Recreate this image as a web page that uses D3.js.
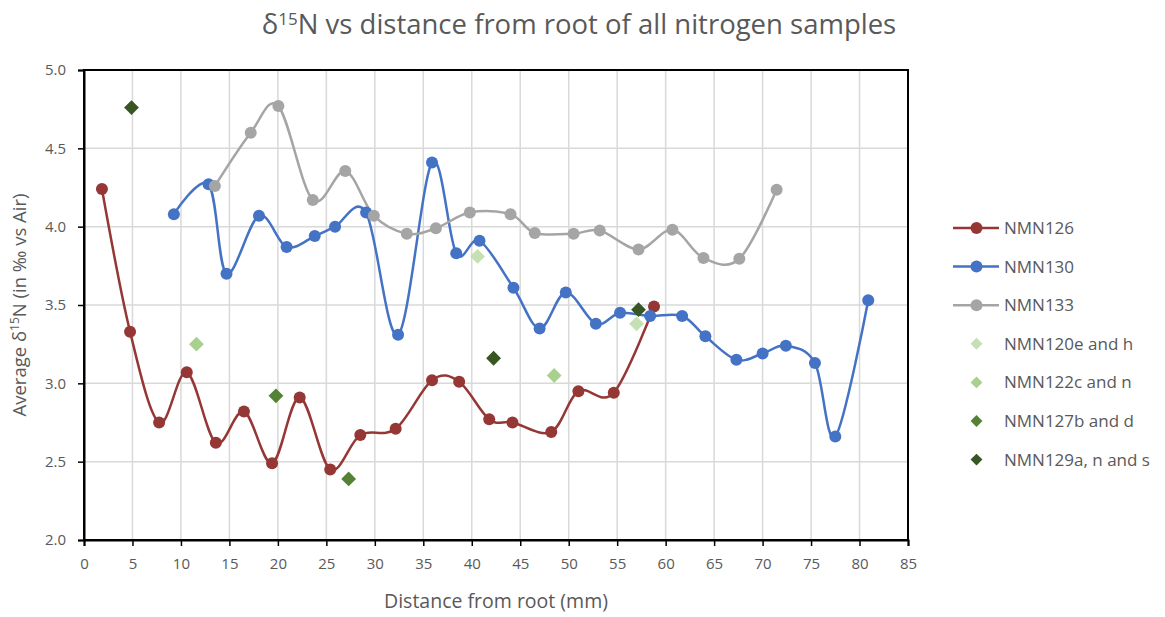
<!DOCTYPE html>
<html>
<head>
<meta charset="utf-8">
<script src="https://cdn.jsdelivr.net/npm/d3@7"></script>
<style>
  body { margin: 0; background: #fff; }
  text { font-family: "Open Sans", "Noto Sans", sans-serif; fill: #595959; }
</style>
</head>
<body>
<div id="chart"></div>
<script>
// Series data (distance mm, d15N)
const nmn126 = [
  [1.85, 4.24], [4.75, 3.33], [7.75, 2.75], [10.6, 3.07], [13.6, 2.62], [16.5, 2.82],
  [19.4, 2.49], [22.25, 2.91], [25.4, 2.45], [28.5, 2.67], [32.15, 2.71], [35.9, 3.02],
  [38.7, 3.01], [41.8, 2.77], [44.2, 2.75], [48.2, 2.69], [51.0, 2.95], [54.65, 2.94],
  [58.8, 3.49]
];
const nmn130 = [
  [9.27, 4.08], [12.85, 4.27], [14.7, 3.70], [18.05, 4.07], [20.9, 3.87], [23.8, 3.94],
  [25.9, 4.0], [29.1, 4.09], [32.4, 3.31], [35.9, 4.41], [38.4, 3.83], [40.8, 3.91],
  [44.3, 3.61], [47.0, 3.35], [49.7, 3.58], [52.8, 3.38], [55.3, 3.45], [58.4, 3.43],
  [61.7, 3.43], [64.1, 3.30], [67.3, 3.15], [70.0, 3.19], [72.4, 3.24], [75.4, 3.13],
  [77.5, 2.66], [80.9, 3.53]
];
const nmn133 = [
  [13.5, 4.26], [17.2, 4.60], [20.05, 4.77], [23.6, 4.17], [26.95, 4.355], [29.9, 4.07],
  [33.3, 3.955], [36.3, 3.99], [39.8, 4.09], [44.0, 4.08], [46.5, 3.96], [50.5, 3.955],
  [53.2, 3.975], [57.2, 3.855], [60.7, 3.98], [63.9, 3.80], [67.6, 3.795], [71.45, 4.235]
];
const nmn120 = [[40.6, 3.81], [57.0, 3.38]];
const nmn122 = [[11.6, 3.25], [48.5, 3.05]];
const nmn127 = [[19.8, 2.92], [27.3, 2.39]];
const nmn129 = [[4.9, 4.76], [42.25, 3.16], [57.2, 3.47]];

const xTicks = d3.range(0, 86, 5);
const yTicks = [2.0, 2.5, 3.0, 3.5, 4.0, 4.5, 5.0];

const lineSeries = [
  { name: "NMN126", data: nmn126, color: "#953735" },
  { name: "NMN130", data: nmn130, color: "#4472C4" },
  { name: "NMN133", data: nmn133, color: "#A5A5A5" }
];
const pointSeries = [
  { name: "NMN120e and h", data: nmn120, color: "#C5E0B4" },
  { name: "NMN122c and n", data: nmn122, color: "#A9D18E" },
  { name: "NMN127b and d", data: nmn127, color: "#548235" },
  { name: "NMN129a, n and s", data: nmn129, color: "#375623" }
];

const width = 1165, height = 617;
const margin = { top: 70, left: 84, right: 257, bottom: 77 };

const svg = d3.select("#chart").append("svg")
  .attr("width", width)
  .attr("height", height);

const x = d3.scaleLinear().domain([0, 85]).range([margin.left, width - margin.right]);
const y = d3.scaleLinear().domain([2, 5]).range([height - margin.bottom, margin.top]);

// gridlines
svg.append("g")
  .selectAll("line.v")
  .data(xTicks.slice(1, -1))
  .join("line")
  .attr("x1", d => x(d)).attr("x2", d => x(d))
  .attr("y1", y(2)).attr("y2", y(5))
  .attr("stroke", "#d9d9d9").attr("stroke-width", 1.5);

svg.append("g")
  .selectAll("line.h")
  .data(yTicks.slice(1, -1))
  .join("line")
  .attr("x1", x(0)).attr("x2", x(85))
  .attr("y1", d => y(d)).attr("y2", d => y(d))
  .attr("stroke", "#d9d9d9").attr("stroke-width", 1.5);

// frame
svg.append("rect")
  .attr("x", x(0)).attr("y", y(5))
  .attr("width", x(85) - x(0)).attr("height", y(2) - y(5))
  .attr("fill", "none").attr("stroke", "#000").attr("stroke-width", 2);

// axes
const xAxis = svg.append("g")
  .attr("transform", `translate(0,${y(2)})`)
  .call(d3.axisBottom(x).tickValues(xTicks).tickSize(6).tickPadding(12).tickFormat(d3.format("d")));
const yAxis = svg.append("g")
  .attr("transform", `translate(${x(0)},0)`)
  .call(d3.axisLeft(y).tickValues(yTicks).tickSize(6).tickPadding(12).tickFormat(d3.format(".1f")));

[xAxis, yAxis].forEach(a => {
  a.select(".domain").attr("stroke", "#000").attr("stroke-width", 2);
  a.selectAll(".tick line").attr("stroke", "#000").attr("stroke-width", 1.5);
  a.selectAll(".tick text").style("font-size", "15px").attr("fill", "#595959");
});

// smoothed lines
const line = d3.line()
  .x(d => x(d[0]))
  .y(d => y(d[1]))
  .curve(d3.curveCardinal.tension(0));

lineSeries.forEach(s => {
  svg.append("path")
    .datum(s.data)
    .attr("d", line)
    .attr("fill", "none")
    .attr("stroke", s.color)
    .attr("stroke-width", 2.5);
});
lineSeries.forEach(s => {
  svg.append("g")
    .selectAll("circle")
    .data(s.data)
    .join("circle")
    .attr("cx", d => x(d[0]))
    .attr("cy", d => y(d[1]))
    .attr("r", 6)
    .attr("fill", s.color);
});

const diamond = d3.symbol().type(d3.symbolDiamond2).size(140);
pointSeries.forEach(s => {
  svg.append("g")
    .selectAll("path")
    .data(s.data)
    .join("path")
    .attr("d", diamond)
    .attr("transform", d => `translate(${x(d[0])},${y(d[1])})`)
    .attr("fill", s.color);
});

// title
const title = svg.append("text")
  .attr("x", 579).attr("y", 34)
  .attr("text-anchor", "middle")
  .style("font-size", "27.5px");
title.append("tspan").text("δ");
title.append("tspan").text("15").attr("dy", -9).style("font-size", "17px");
title.append("tspan").text("N vs distance from root of all nitrogen samples").attr("dy", 9);

// axis labels
svg.append("text")
  .attr("x", x(42.5)).attr("y", 608)
  .attr("text-anchor", "middle")
  .style("font-size", "19.5px")
  .text("Distance from root (mm)");

const yl = svg.append("text")
  .attr("transform", `translate(26,${y(3.5)}) rotate(-90)`)
  .attr("text-anchor", "middle")
  .style("font-size", "18.5px");
yl.append("tspan").text("Average δ");
yl.append("tspan").text("15").attr("dy", -7).style("font-size", "12px");
yl.append("tspan").text("N (in ‰ vs Air)").attr("dy", 7);

// legend
const legend = svg.append("g").attr("transform", "translate(953,228)");
const allSeries = lineSeries.map(s => ({ ...s, kind: "line" }))
  .concat(pointSeries.map(s => ({ ...s, kind: "point" })));
allSeries.forEach((s, i) => {
  const g = legend.append("g").attr("transform", `translate(0,${i * 38.6})`);
  if (s.kind === "line") {
    g.append("line").attr("x1", 0).attr("x2", 46).attr("y1", 0).attr("y2", 0)
      .attr("stroke", s.color).attr("stroke-width", 2.5);
    g.append("circle").attr("cx", 23.5).attr("cy", 0).attr("r", 6).attr("fill", s.color);
  } else {
    g.append("path").attr("d", d3.symbol().type(d3.symbolDiamond2).size(90))
      .attr("transform", "translate(23.5,0)").attr("fill", s.color);
  }
  g.append("text").attr("x", 51).attr("y", 0).attr("dy", "0.35em")
    .style("font-size", "17px").text(s.name);
});
</script>
</body>
</html>
